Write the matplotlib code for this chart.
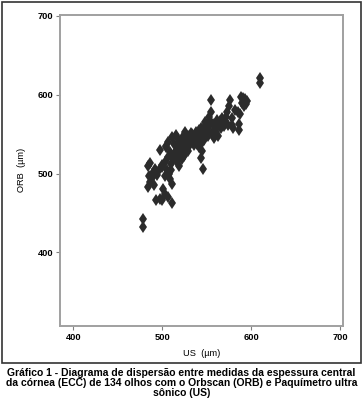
import matplotlib
matplotlib.use('Agg')
import matplotlib.pyplot as plt
from matplotlib.patches import Rectangle

plt.rcParams['font.family'] = ['Liberation Sans', 'DejaVu Sans']

# US (ultrasonic pachymetry) vs ORB (Orbscan) central corneal thickness, um
us_low = [478, 478, 493, 497, 500, 503, 506, 511, 501, 484, 486, 489, 485, 491, 488,
          484, 486, 492, 496, 500, 505, 508, 509, 511, 503]
orb_low = [432, 442, 467, 468, 466, 474, 470, 462, 480, 483, 489, 494, 497, 486, 500,
           510, 513, 506, 505, 508, 504, 500, 493, 487, 497]

us_mid = [500, 503, 506, 509, 504, 498, 510, 512, 514, 516,
          518, 513, 507, 511, 515, 518, 520, 521, 523, 520,
          517, 519, 522, 525, 527, 524, 528, 530, 526, 532,
          535, 533, 530, 536, 538, 540, 538, 542, 544, 541,
          545, 544, 546, 543]
orb_mid = [511, 515, 521, 527, 533, 530, 512, 518, 522, 528,
           532, 537, 540, 546, 549, 544, 540, 535, 528, 523,
           515, 509, 518, 522, 530, 537, 542, 548, 553, 551,
           546, 540, 535, 536, 542, 548, 553, 545, 538, 533,
           528, 520, 506, 552]

us_high = [546, 548, 550, 552, 554, 553, 555, 555, 557, 559,
           561, 558, 562, 564, 566, 563, 568, 570, 572, 573,
           575, 576, 578, 579, 580, 582, 585, 586, 586, 588,
           590, 591, 592, 594, 593, 589, 595, 610, 610]
orb_high = [556, 549, 560, 554, 566, 572, 578, 593, 563, 557,
            552, 545, 568, 561, 558, 548, 565, 560, 572, 578,
            585, 593, 570, 562, 558, 580, 578, 555, 563, 575,
            590, 596, 585, 588, 594, 597, 592, 615, 621]

us_extra = [513, 516, 519, 522, 526, 529, 531, 534, 537, 539, 547, 549, 551,
            553, 556, 560, 565, 567, 571, 574, 544, 541, 548, 510, 494, 504]
orb_extra = [525, 520, 530, 545, 540, 528, 543, 550, 547, 538, 543, 553, 547,
             560, 551, 562, 567, 571, 566, 562, 558, 555, 565, 504, 498, 535]

us = us_low + us_mid + us_high + us_extra
orb = orb_low + orb_mid + orb_high + orb_extra

W, H = 363, 405
fig = plt.figure(figsize=(W / 100, H / 100), dpi=100)

# outer frame around chart
fig.patches.append(Rectangle((1.5 / W, (H - 362.5) / H), 359.5 / W, 361 / H,
                             transform=fig.transFigure, fill=False,
                             edgecolor='#333333', linewidth=1.2))

ax = fig.add_axes([60 / W, (H - 325.7) / H, 282.7 / W, 310.7 / H])
ax.plot(us, orb, linestyle='none', marker='d', markersize=6,
        color='#2b2b2b', markeredgewidth=0)

ax.set_xlim(385, 703)
ax.set_ylim(307, 701)
ax.set_xticks([400, 500, 600, 700])
ax.set_yticks([400, 500, 600, 700])
for sp in ax.spines.values():
    sp.set_color('#a0a0a0')
    sp.set_linewidth(1.4)
ax.tick_params(length=3, width=0.8, color='#808080', labelsize=6.7, pad=2)
for lbl in ax.get_xticklabels() + ax.get_yticklabels():
    lbl.set_fontweight('bold')

ax.set_xlabel('US  (µm)', fontsize=6.7, labelpad=5)
ax.set_ylabel('ORB  (µm)', fontsize=6.7, labelpad=8)

fig.text(0.5, (H - 383) / H,
         'Gráfico 1 - Diagrama de dispersão entre medidas da espessura central\n'
         'da córnea (ECC) de 134 olhos com o Orbscan (ORB) e Paquímetro ultra\n'
         'sônico (US)',
         ha='center', va='center', fontsize=7.5, fontweight='bold',
         linespacing=1.0)

fig.savefig('out.png', dpi=100)
